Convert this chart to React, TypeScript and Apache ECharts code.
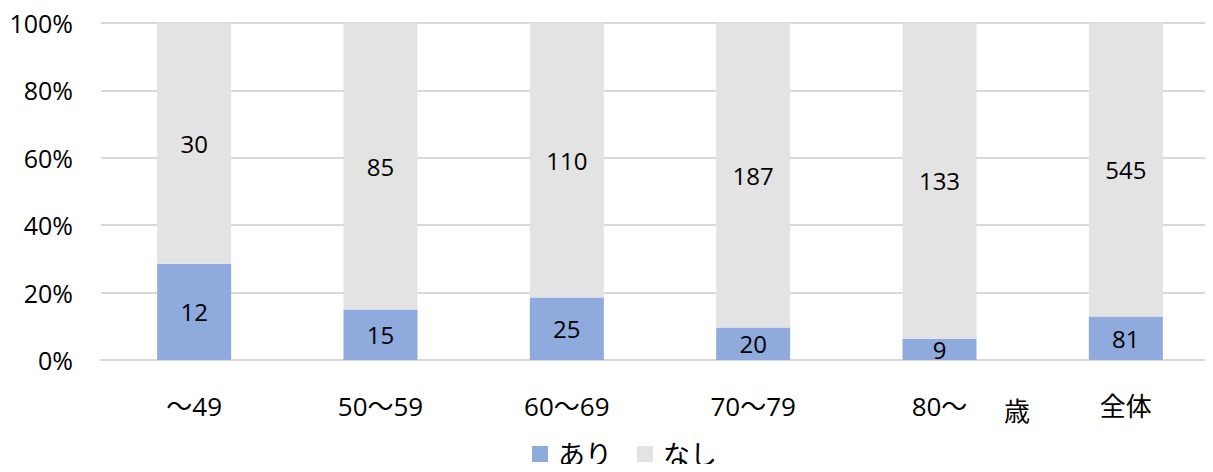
import React, { useEffect, useRef } from "react";
import * as echarts from "echarts";

const categories = ["～49", "50～59", "60～69", "70～79", "80～", "全体"];
const ariValues = [12, 15, 25, 20, 9, 81];
const nashiValues = [30, 85, 110, 187, 133, 545];
const seriesNames = ["あり", "なし"];
const yTicks = [0, 20, 40, 60, 80, 100];

const FONT = "'Open Sans', 'Noto Sans CJK JP', sans-serif";

export default function App() {
  const ref = useRef<HTMLDivElement>(null);
  useEffect(() => {
    if (!ref.current) return;
    const chart = echarts.init(ref.current, null, { renderer: "svg" });
    const totals = ariValues.map((v, i) => v + nashiValues[i]);
    const ariPct = ariValues.map((v, i) => ({ value: (v / totals[i]) * 100, raw: v }));
    const nashiPct = nashiValues.map((v, i) => ({ value: (v / totals[i]) * 100, raw: v }));
    const labelCfg = {
      show: true,
      position: "inside",
      color: "#000",
      fontSize: 24,
      fontFamily: FONT,
      formatter: (p: any) => String(p.data.raw),
    };
    chart.setOption({
      animation: false,
      textStyle: { fontFamily: FONT },
      grid: {
        left: 101,
        width: 1118,
        top: 23,
        bottom: 112,
        containLabel: false,
        outerBoundsMode: "none",
      },
      legend: {
        data: seriesNames,
        top: 440,
        left: 532,
        padding: 0,
        itemWidth: 16,
        itemHeight: 16,
        itemGap: 25,
        icon: "rect",
        textStyle: {
          fontSize: 27,
          lineHeight: 28,
          color: "#000",
          fontFamily: FONT,
          padding: [0, 0, 0, 5],
        },
      },
      xAxis: {
        type: "category",
        data: categories,
        axisLine: { show: true, lineStyle: { color: "#d9d9d9", width: 2 } },
        axisTick: { show: false },
        axisLabel: { fontSize: 26, color: "#000", margin: 33, fontFamily: FONT },
      },
      yAxis: {
        type: "value",
        min: yTicks[0],
        max: yTicks[yTicks.length - 1],
        interval: 20,
        axisLine: { show: false },
        axisTick: { show: false },
        splitLine: { lineStyle: { color: "#d9d9d9", width: 2 } },
        axisLabel: { fontSize: 25, color: "#000", margin: 28, formatter: "{value}%", fontFamily: FONT },
      },
      graphic: [
        {
          type: "text",
          left: 1004,
          top: 398,
          style: { text: "歳", fontSize: 26, fill: "#000", fontFamily: FONT },
        },
      ],
      series: [
        {
          name: seriesNames[0],
          type: "bar",
          stack: "total",
          barWidth: 74,
          data: ariPct,
          itemStyle: { color: "#8faadc" },
          label: labelCfg,
        },
        {
          name: seriesNames[1],
          type: "bar",
          stack: "total",
          barWidth: 74,
          data: nashiPct,
          itemStyle: { color: "#e3e3e3" },
          label: labelCfg,
        },
      ],
    });
    return () => chart.dispose();
  }, []);
  return (
    <div style={{ margin: -8, width: 1213, height: 472, overflow: "hidden" }}>
      <div ref={ref} style={{ width: 1213, height: 472 }} />
    </div>
  );
}
